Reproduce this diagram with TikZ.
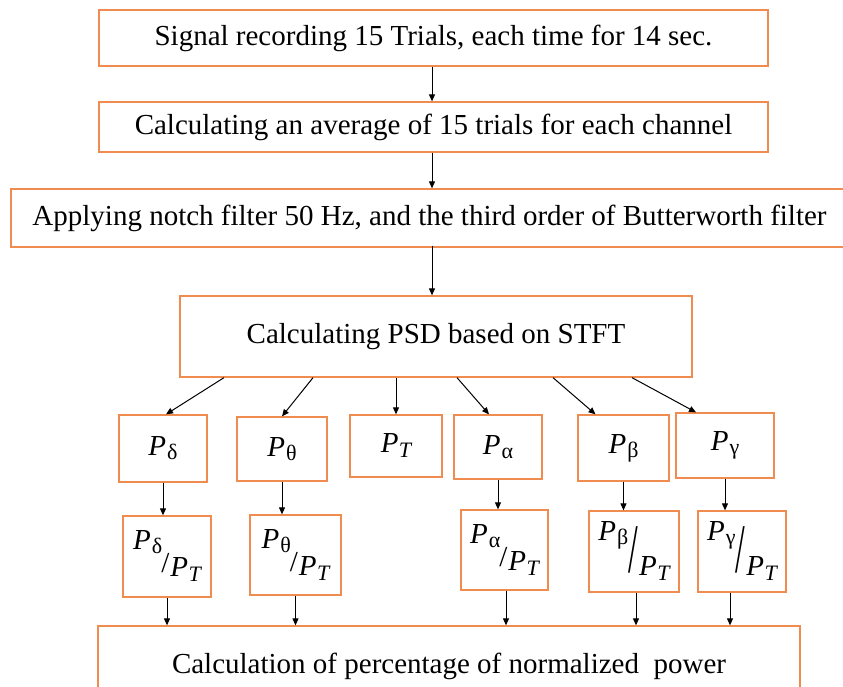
\documentclass[tikz,border=0pt]{standalone}
\usepackage{fontspec}
\usepackage{graphicx}
\setmainfont{Liberation Serif}
\usetikzlibrary{arrows.meta}
\definecolor{boxorange}{RGB}{240,140,80}
\newcommand\Pg[1]{{\itshape P}\kern1pt\raisebox{-4pt}{\fontsize{22}{22}\selectfont #1}}
\newcommand\PTsub{{\itshape P}\kern0.5pt\raisebox{-5pt}{\fontsize{22}{22}\selectfont\itshape T}}
\newcommand\bevsmall[1]{\raisebox{23pt}{\Pg{#1}}\kern-1pt/\kern1pt\raisebox{-4pt}{\PTsub}}
\newcommand\bevbig[1]{\raisebox{32pt}{\Pg{#1}}\kern0pt\scalebox{1.2}[2.4]{/}\kern1pt\raisebox{-3pt}{\PTsub}}
\begin{document}
\begin{tikzpicture}[x=1pt,y=-1pt,
  box/.style={draw=boxorange, line width=1.3pt, inner sep=0pt, align=center,
    font=\fontsize{29}{32}\selectfont},
  arr/.style={-{Triangle[length=7pt,width=6pt]}, line width=1pt, black}]
\clip (0,0) rectangle (843,687);
\fill[white] (0,0) rectangle (843,687);
% main boxes
\node[box, minimum width=669pt, minimum height=56pt] (b1) at (433.5,38) {Signal recording 15 Trials, each time for 14 sec.};
\node[box, minimum width=669pt, minimum height=50pt] (b2) at (433.5,127) {Calculating an average of 15 trials for each channel};
\node[box, minimum width=837pt, minimum height=58pt] (b3) at (429.5,218) {Applying notch filter 50 Hz, and the third order of Butterworth filter};
\node[box, minimum width=512pt, minimum height=81pt] (b4) at (436,336.5) {Calculating PSD based on STFT};
% first row
\node[box, minimum width=88pt, minimum height=67pt] (pd) at (163,448.5) {\Pg{δ}};
\node[box, minimum width=90pt, minimum height=64pt] (pth) at (282,449) {\Pg{θ}};
\node[box, minimum width=92pt, minimum height=62pt] (pt) at (396,446) {\PTsub};
\node[box, minimum width=88pt, minimum height=64pt] (pa) at (498,447) {\Pg{α}};
\node[box, minimum width=91pt, minimum height=66pt] (pb) at (623.5,448) {\Pg{β}};
\node[box, minimum width=98pt, minimum height=65pt] (pg) at (725,445.5) {\Pg{γ}};
% second row
\node[box, minimum width=88pt, minimum height=81pt] (nd) at (167,556.5) {\bevsmall{δ}};
\node[box, minimum width=91pt, minimum height=80pt] (nth) at (295.5,555) {\bevsmall{θ}};
\node[box, minimum width=87pt, minimum height=80pt] (na) at (504.5,550) {\bevsmall{α}};
\node[box, minimum width=90pt, minimum height=81pt] (nb) at (634,551.5) {\bevbig{β}};
\node[box, minimum width=88pt, minimum height=81pt] (ng) at (742,551.5) {\bevbig{γ}};
% bottom box
\node[box, minimum width=702pt, minimum height=74pt, text depth=0pt] (bot) at (449,663) {Calculation of percentage of normalized\ \ power};
% connectors
\draw[arr] ([xshift=-1.5pt]b1.south) -- ([xshift=-1.5pt]b1.south |- b2.north);
\draw[arr] ([xshift=-1.5pt]b2.south) -- ([xshift=-1.5pt]b2.south |- b3.north);
\draw[arr] ([xshift=2.5pt,yshift=2pt]b3.south) -- ([xshift=-4pt]b4.north);
\draw[arr] ([xshift=-212pt]b4.south) -- ([xshift=3pt]pd.north);
\draw[arr] ([xshift=-123pt]b4.south) -- (pth.north);
\draw[arr] ([xshift=-40pt]b4.south) -- (pt.north);
\draw[arr] ([xshift=21pt]b4.south) -- ([xshift=-9pt]pa.north);
\draw[arr] ([xshift=117pt]b4.south) -- ([xshift=-28pt]pb.north);
\draw[arr] ([xshift=196pt]b4.south) -- ([xshift=-29pt]pg.north);
\draw[arr] (pd.south) -- (pd.south |- nd.north);
\draw[arr] (pth.south) -- (pth.south |- nth.north);
\draw[arr] (pa.south) -- (pa.south |- na.north);
\draw[arr] (pb.south) -- (pb.south |- nb.north);
\draw[arr] (pg.south) -- (pg.south |- ng.north);
\draw[arr] (nd.south) -- (nd.south |- bot.north);
\draw[arr] (nth.south) -- (nth.south |- bot.north);
\draw[arr] ([xshift=1.5pt]na.south) -- ([xshift=1.5pt]na.south |- bot.north);
\draw[arr] ([xshift=2pt]nb.south) -- ([xshift=2pt]nb.south |- bot.north);
\draw[arr] ([xshift=-12pt]ng.south) -- ([xshift=-12pt]ng.south |- bot.north);
\end{tikzpicture}
\end{document}
